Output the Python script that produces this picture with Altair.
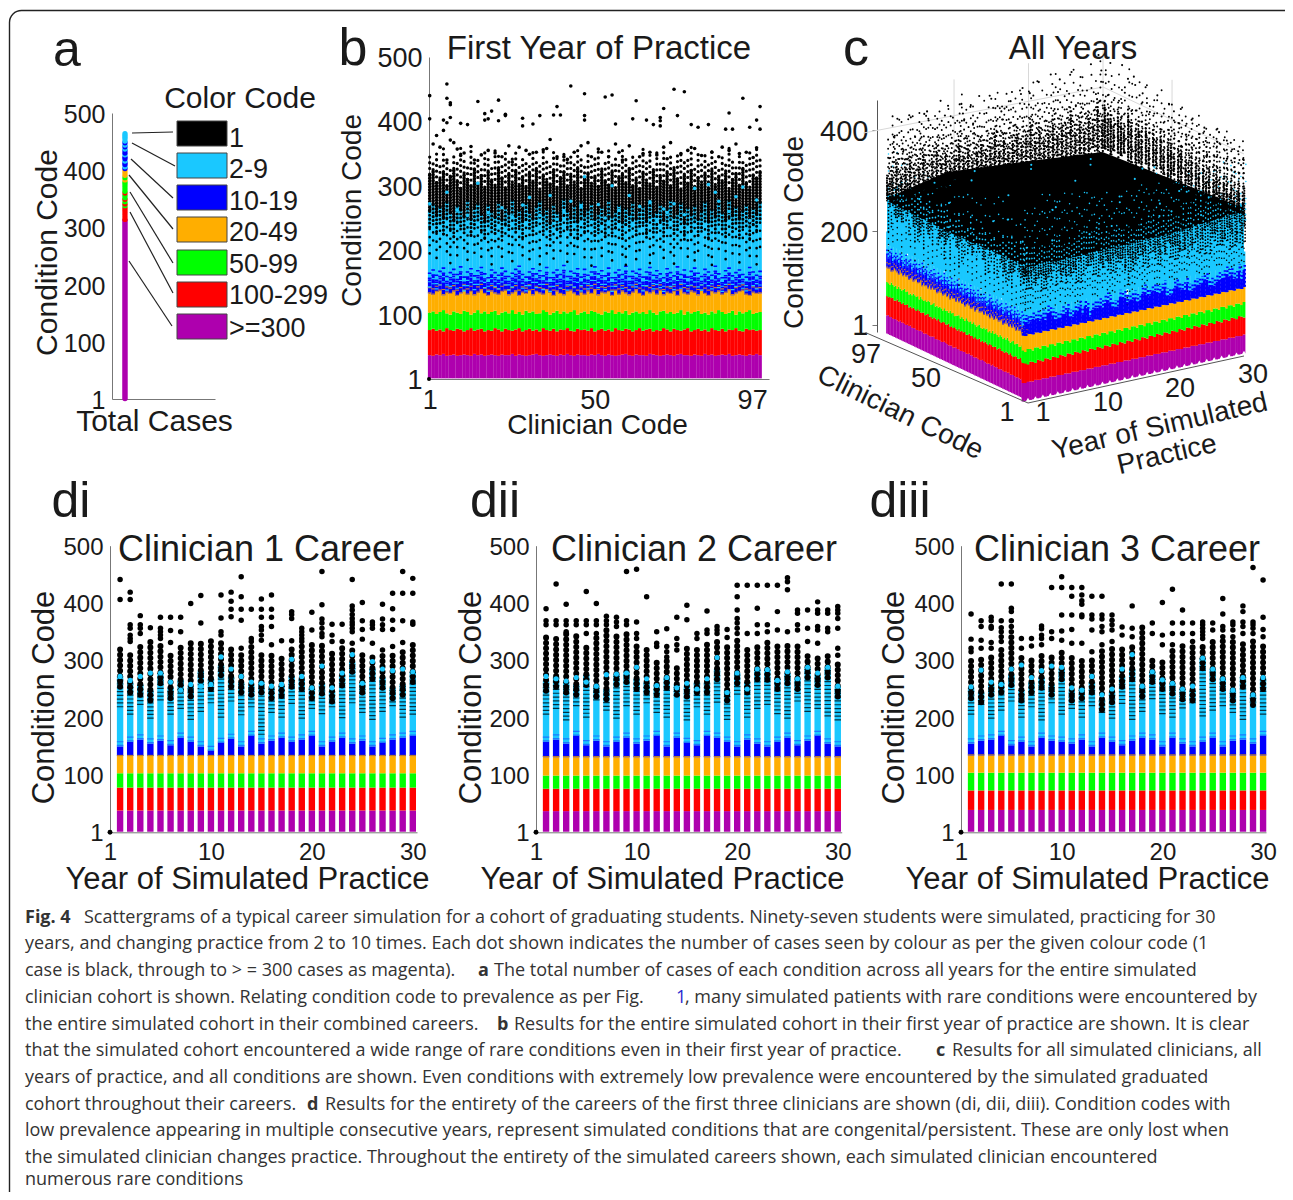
import altair as alt
import pandas as pd

BLACK, CYAN, BLUE, ORANGE, GREEN, RED, PURPLE = "#000000", "#1ac8ff", "#0000ff", "#ffae00", "#00ff00", "#ff0000", "#ae00ae"
W, H = 1277, 1184
SANS = "Liberation Sans"
CAP = "Open Sans"
TXT = "#1a1a1a"
AXC = "#777777"

LEGEND_LABELS = ["1", "2-9", "10-19", "20-49", "50-99", "100-299", ">=300"]
LEGEND_COLORS = [BLACK, CYAN, BLUE, ORANGE, GREEN, RED, PURPLE]

# Panel a: total cases by condition code
A_PURPLE_TOP = 312
A_CODES = [314, 318, 322, 326, 330, 334, 338, 341, 345, 349, 352, 356, 360, 363, 367, 371, 375, 379, 383, 387, 391, 395, 399,
           403, 406, 410, 413, 416, 420, 423, 427, 430, 434, 437, 441, 444, 448, 451, 455, 458, 461, 464]
A_CLASS = ["r", "r", "r", "r", "r", "r", "g", "r", "g", "r", "g", "g", "r", "g", "g", "g", "g", "g", "o", "g", "o", "o", "o",
           "b", "c", "b", "b", "c", "b", "b", "c", "b", "b", "c", "b", "c", "b", "c", "c", "c", "c", "c"]

# Panel b: first year of practice, band tops for each of the 97 clinicians
B_PURPLE = [37,36,38,37,39,36,37,38,36,37, 38,37,36,39,37,38,36,37,38,37, 36,38,37,37,39,36,38,37,36,37,
            38,39,37,36,37,38,37,36,38,37, 39,37,36,38,37,37,36,38,37,39, 37,36,38,37,36,37,38,39,37,36,
            38,37,37,36,39,38,37,36,37,38, 37,36,38,39,37,37,36,38,37,36, 39,37,38,36,37,38,37,39,36,37,
            38,37,36,38,37,39,37]
B_RED = [76,78,75,77,74,79,76,75,78,77, 74,76,79,75,77,78,74,76,75,79, 77,74,78,76,75,77,79,74,76,78,
         75,77,74,79,76,75,78,74,77,76, 79,75,74,78,76,77,75,79,74,76, 78,75,77,74,79,76,75,78,77,74,
         76,79,75,77,78,74,76,75,79,77, 74,78,76,75,77,79,74,76,78,75, 77,74,79,76,75,78,74,77,76,79,
         75,74,78,76,77,75,76]
B_GREEN = [103,105,101,104,107,102,100,105,103,101, 106,104,100,103,107,102,105,101,104,106, 100,103,105,102,107,101,104,100,106,103,
           105,101,102,107,104,100,103,106,101,105, 102,104,107,100,103,105,101,106,104,102, 100,105,103,107,101,104,102,106,100,103,
           105,102,104,101,107,103,100,105,106,102, 104,101,103,107,100,105,102,104,106,101, 103,100,105,102,107,104,101,103,106,100,
           105,102,104,107,101,103,104]
B_ORANGE = [133,131,135,137,130,134,132,136,129,133, 137,131,135,130,134,138,132,129,136,133, 131,135,137,130,133,136,129,134,132,137,
            130,135,133,131,138,134,129,136,132,130, 135,137,133,129,134,131,136,132,138,130, 134,133,135,129,137,131,136,133,130,134,
            138,132,129,135,133,136,131,137,130,134, 132,135,129,138,133,131,136,134,130,137, 132,129,135,133,136,131,134,138,130,133,
            135,137,131,129,134,132,133]
B_BLUE = [155,160,152,158,163,150,156,161,153,165, 149,157,162,151,159,164,154,148,160,156, 152,163,158,150,155,161,166,153,149,157,
          162,154,159,151,164,148,156,160,153,167, 150,158,155,162,149,161,152,157,165,154, 159,151,163,148,156,160,153,166,150,158,
          155,161,149,157,164,152,159,154,148,162, 156,151,165,153,160,149,158,163,155,150, 161,157,152,166,154,148,159,163,151,156,
          160,153,149,164,157,152,158]
B_CYAN = [195,215,188,205,225,198,180,212,192,220, 203,185,228,196,210,190,218,200,178,214, 205,190,226,197,183,216,208,192,222,186,
          201,213,178,224,195,207,187,219,199,230, 182,211,194,205,223,189,217,176,202,214, 191,226,198,184,209,219,193,177,206,221,
          186,200,213,228,180,195,215,205,188,222, 197,179,210,203,225,190,216,184,199,229, 207,192,177,218,202,212,186,224,195,208,
          181,219,200,191,214,178,205]
B_MIX = [262,272,255,268,251,276,259,247,270,264, 253,278,249,266,273,257,245,271,261,252, 275,248,267,258,279,254,263,246,274,260,
         250,269,277,256,265,243,272,259,248,280, 262,251,270,245,276,255,264,273,249,258, 268,247,278,253,261,271,244,266,257,275,
         250,263,269,246,277,254,260,272,248,265, 279,252,258,274,243,267,256,270,249,261, 276,245,264,253,273,259,247,278,255,268,
         250,262,271,244,266,257,275]
B_DENSE = [318,325,305,312,322,300,315,327,308,296, 320,310,300,326,304,316,298,323,309,301, 328,312,297,319,306,324,302,314,299,321,
           307,327,295,317,310,303,325,298,313,322, 300,318,306,328,296,311,320,304,315,299, 326,308,301,323,297,314,319,305,327,300,
           312,296,321,309,303,325,298,316,307,322, 300,328,311,295,318,304,324,299,313,306, 320,297,326,302,315,308,323,296,310,319,
           301,327,305,298,317,312,322]
B_SPARSE = [346,338,352,332,358,340,330,350,336,360, 344,333,354,339,348,331,356,342,335,362, 347,330,351,337,345,359,334,349,341,332,
            355,343,336,361,338,331,353,346,333,357, 340,350,335,363,344,330,352,339,347,358, 334,341,355,332,349,337,360,345,331,351,
            343,336,362,338,348,333,354,340,359,335, 346,331,350,356,337,344,361,332,353,339, 347,334,357,342,330,352,338,363,345,335,
            349,341,332,355,336,358,343]
B_SCATTER = [(1,440),(1,404),(6,458),(6,436),(7,429),(7,426),(5,402),(7,406),(6,398),(10,397),(12,395),(15,431),(17,412),(19,416),
             (21,433),(23,411),(23,409),(21,401),(17,402),(18,404),(28,405),(28,393),(31,396),(33,409),(37,410),(39,410),(38,423),
             (42,455),(46,443),(46,409),(46,402),(52,438),(54,441),(55,396),(60,404),(61,432),(64,402),(66,395),(68,406),(68,401),
             (68,393),(69,420),(72,450),(75,446),(73,409),(77,395),(79,391),(82,395),(88,413),(92,436),(96,402),(97,423),(97,388),
             (94,391),(89,388),(87,388),(3,378),(5,386),(8,367),(2,365),(7,371),(9,357),(11,351),(13,361),(14,340),(4,360),(6,340),
             (10,347),(16,348),(18,355),(20,351),(22,345),(24,362),(25,337),(27,360),(29,355),(30,349),(32,352),(34,356),(35,358),
             (36,372),(38,345),(40,345),(41,341),(43,352),(45,362),(47,367),(48,345),(50,357),(51,352),(53,345),(55,365),(57,340),
             (56,352),(59,362),(62,345),(63,350),(65,352),(67,348),(69,360),(70,342),(71,367),(74,350),(76,355),(78,358),(80,347),
             (83,352),(85,345),(86,360),(88,355),(90,365),(91,350),(93,352),(95,344),(96,359)]
B_CYAN_DOTS = [(15,304),(46,314),(6,290),(1,272),(9,262),(28,270),(30,282),(36,285),(40,260),(42,276),(45,268),(50,271),(54,300),
               (56,262),(59,285),(62,268),(65,275),(69,264),(70,258),(72,272),(78,296),(82,302),(84,290),(85,276),(88,260),(90,283),
               (92,298),(96,278),(18,258),(22,266),(25,252),(33,254),(38,248),(48,244),(52,250),(67,246),(75,255),(94,246),(12,254)]

# Panels d: one clinician across 30 years
D1_BLUE = [150,158,162,155,160,152,165,158,150,142, 156,163,150,168,155,160,165,158,162,168, 150,158,165,155,160,150,156,162,165,168]
D1_CYAN = [218,205,222,198,230,205,215,196,210,225, 200,228,204,218,170,208,200,224,198,215, 206,218,199,225,208,196,210,220,200,205]
D1_MIX = [272,262,258,248,278,252,266,255,282,268, 292,272,262,258,262,252,256,272,268,252, 260,246,274,298,262,286,270,252,258,280]
D1_DENSE = [327,315,327,333,330,309,330,330,333,338, 335,327,309,327,309,309,309,321,324,333, 333,318,327,321,315,309,309,309,315,327]
D1_CDOT = [272,265,272,278,278,262,248,258,255,258, 306,285,272,262,260,255,258,302,272,252, 290,252,278,310,260,298,285,282,285,280]
D1_OUT = {1:[441,406],2:[419,406,362,356,344,338,333],3:[378,362,356,347],4:[357],5:[375,356,350,344,338],6:[375,352,331],7:[375,350],
          8:[399],9:[413,365],11:[414,374,350,344],12:[419,403,389,376],13:[446,411,389,370,321],14:[389,338,333],
          15:[407,389,375,359,353,344,335],16:[414,389,375,359,327],17:[334],18:[385,380,373,334],19:[356,350,344,338,333],
          20:[384,353],21:[455,397,372,365,356,347,341],22:[363,344,333],23:[363,333],24:[441,395,388,380,373,367,362,356,350,330],
          25:[401,369,354,337],26:[367,362,356,330],27:[398,372,362,354,318],28:[417,390,370,354,324],29:[455,417,369,331],30:[443,417,367,363]}

D2_BLUE = [158,162,155,168,152,160,150,158,165,155, 160,168,150,165,156,152,168,165,158,150, 162,155,150,158,165,152,160,168,155,150]
D2_CYAN = [205,215,195,220,200,230,212,198,220,205, 225,208,200,238,195,218,205,226,196,240, 200,215,222,206,198,228,210,215,202,195]
D2_MIX = [265,272,262,258,275,255,250,276,280,268, 262,258,270,258,255,262,262,285,248,278, 262,285,284,268,278,268,288,275,288,255]
D2_DENSE = [341,341,350,350,330,341,353,350,350,330, 318,298,300,295,327,321,335,333,327,338, 318,330,335,333,327,327,315,309,309,298]
D2_CDOT = [272,268,264,270,262,255,275,276,278,288, 268,256,270,252,260,250,268,305,244,278, 250,285,284,265,280,268,288,278,288,255]
D2_OUT = {1:[390,369,362],2:[433,369,362],3:[398,369,362,350],4:[369,362],5:[420,369,362,347],6:[399,369,362,347],7:[377,369,362],
          8:[375,367,359],9:[455,369,362],10:[459,367,347,338],11:[411],12:[350,330,324],13:[355,324,315,306],14:[375,338,327,318],
          15:[396,371],16:[347,338],17:[386,353,347],18:[359,353,347],19:[354,340],20:[431,411,388,373,365,356,347],21:[431,347],
          22:[431,391,362,347],23:[431,362,350],24:[431,385,353],25:[444,437,423,350],26:[388,382,362,353],27:[388,356,333],
          28:[402,388,382,359,353,330],29:[388,382,356,350],30:[394,388,382,373,356,321,309]}

D3_BLUE = [155,160,162,168,152,158,150,165,160,158, 155,162,150,165,158,152,160,165,162,150, 165,155,150,158,165,150,160,162,155,168]
D3_CYAN = [205,222,198,212,228,200,218,195,225,205, 215,200,220,208,198,224,196,210,232,206, 200,216,225,202,212,220,208,196,226,205]
D3_MIX = [252,245,258,262,275,248,262,270,258,285, 248,252,262,232,245,272,285,255,280,268, 260,250,248,304,285,268,248,272,240,268]
D3_DENSE = [300,306,312,327,341,309,306,309,309,321, 306,306,303,324,327,327,330,360,306,298, 318,333,327,327,333,341,333,330,333,333]
D3_CDOT = [254,283,262,258,285,292,270,282,290,288, 252,248,272,240,250,285,310,255,280,266, 260,250,255,304,285,268,248,270,240,270]
D3_OUT = {1:[381,337,321,315],2:[369,359,335,321],3:[375,369,359,356,331,321],4:[433,369,357,350,341,333],5:[433,391,385,369,359,350],
          6:[338,321],7:[338,325],8:[360,355,344,338,327],9:[427,350,338],10:[446,427,379,351,335],11:[427,412,379,354,330],
          12:[427,414,404,398,379,376,330],13:[412,379,372,353,315],14:[412,379,372,359,350,327],15:[379,370,362,353,333],16:[358,344],
          17:[395,356,341],19:[365,347],20:[401,344,327],21:[424,365,347,327],22:[388,365,347],23:[365,347,333],
          24:[367,362,356,350,344,338],25:[365,353],26:[408,381,359,353,341],27:[367,362,353,341],28:[395,385,367,359,347],
          29:[462,367,362,356,347],30:[440,375,354,341]}

D_LAYOUTS = [
    dict(blue=D1_BLUE, cyan=D1_CYAN, mix=D1_MIX, dense=D1_DENSE, cdot=D1_CDOT, out=D1_OUT, tops=[38, 78, 103, 133]),
    dict(blue=D2_BLUE, cyan=D2_CYAN, mix=D2_MIX, dense=D2_DENSE, cdot=D2_CDOT, out=D2_OUT, tops=[37, 76, 99, 131]),
    dict(blue=D3_BLUE, cyan=D3_CYAN, mix=D3_MIX, dense=D3_DENSE, cdot=D3_CDOT, out=D3_OUT, tops=[39, 73, 104, 134]),
]

# Panel c: individual rare points (year, clinician, condition)
C_POINTS = [(2,95,430),(3,92,438),(4,96,425),(5,90,442),(6,94,415),(7,88,430),(8,96,445),(9,85,420),(10,92,438),(11,96,410),
            (12,90,450),(13,80,430),(14,93,440),(15,97,425),(16,88,448),(17,94,418),(18,86,442),(19,96,435),(20,90,452),(21,82,440),
            (22,92,458),(23,96,430),(24,88,462),(25,94,445),(26,78,450),(27,90,465),(28,85,448),(29,95,470),(30,92,455),(30,84,462),
            (30,76,450),(29,70,445),(30,68,440),(28,72,430),(30,60,435),(29,62,420),(30,52,428),(28,55,415),(30,44,430),(29,40,410),
            (30,36,422),(28,30,395),(30,28,415),(29,22,400),(30,18,420),(28,16,385),(30,10,410),(30,5,400),(29,8,380),(27,62,405),
            (26,66,415),(25,74,420),(24,58,400),(23,80,410),(22,70,420),(20,72,395),(18,80,415),(16,74,400),(14,84,405),(12,78,395),
            (10,84,410),(8,78,395),(6,84,400),(4,80,385),(3,88,400),(2,84,385),(1,92,400),(1,86,380),(2,76,370),(5,70,375),
            (7,66,365),(9,72,385),(11,68,375),(13,70,385),(15,66,370),(17,62,380),(19,64,390),(21,60,375),(23,62,385),(25,56,370),
            (27,48,385),(26,40,375),(28,42,390),(27,30,365),(29,30,380),(26,22,355),(28,12,365),(30,3,375),(24,46,362),(22,50,368),
            (20,54,372),(18,56,360),(16,60,368),(14,64,358),(12,66,370),(10,70,360),(8,72,372),(6,74,355),(4,76,368),(30,70,425),
            (30,80,440),(28,88,452),(26,92,440),(24,96,436),(21,96,442),(18,92,432),(15,88,418),(12,96,420),(9,96,432),(6,97,424)]
C_CYAN = [(8,20,272),(15,15,285),(22,18,278),(12,40,292),(20,35,300),(25,25,268),(5,45,285),(10,60,300),(18,55,310),(25,50,298),
          (28,35,285),(4,70,290),(9,80,305),(16,75,312),(23,70,305),(28,60,295),(3,85,280),(2,60,262),(6,30,262),(14,25,258),
          (20,12,262),(27,15,268),(30,25,280),(30,40,270),(12,10,250),(5,12,245),(18,8,255),(24,5,258),(8,50,272),(14,48,280),
          (22,45,268),(26,38,262),(2,75,258),(6,90,296),(11,88,306),(18,85,300),(25,80,296),(30,62,288),(3,28,250),(7,8,240)]
C_FRINGE_L = [330,345,362,338,355,372,342,350,368,336, 358,375,345,362,340,352,378,348,365,338, 356,372,344,360,380,350,366,342,358,376,
              346,362,384,352,368,344,360,378,348,372, 356,388,350,366,346,376,358,392,354]
C_FRINGE_R = [392,360,378,350,386,366,354,395,372,356, 380,362,390,352,374,358,384,350,368,378, 348,360,372,352,344,366,356,348,362,340,
              352,344,358,338,350,342,348,336,346,340]
C_YEARS_L = [1.0,1.6,2.2,2.8,3.4,4.0,4.6,5.2,5.8,6.4, 7.0,7.6,8.2,8.8,9.4,10.0,10.6,11.2,11.8,12.4, 13.0,13.6,14.2,14.8,15.4,16.0,16.6,17.2,17.8,18.4,
             19.0,19.6,20.2,20.8,21.4,22.0,22.6,23.2,23.8,24.4, 25.0,25.6,26.2,26.8,27.4,28.0,28.6,29.2,29.8]
C_CLIN_R = [96,94,92,90,87,85,83,80,78,75, 73,71,68,66,63,61,58,56,53,51, 49,46,44,41,39,37,34,32,29,27, 25,22,20,18,15,13,10,8,5,2]
# cloud outline: (year, clinician, condition) of its solid part
C_BODY_TOP = [(1, 97, 272), (9, 97, 298), (20, 97, 284), (30, 97, 270), (30, 50, 280), (30, 1, 292)]
C_BODY_LOW = [(1, 97, 266), (1, 56, 262), (1, 1, 268), (11, 1, 268), (20.5, 1, 274), (30, 1, 286)]

YEARS = list(range(1, 31))
CLINS = list(range(1, 98))


def cx(v):
    return v - 8


def cy(v):
    return v - 8


def sc(dom, rng):
    return alt.Scale(domain=dom, range=rng, nice=False, zero=False)


one = alt.Data(values=[{"k": 0}])


def txt(x, y, s, size=28, font=SANS, color=TXT, align="center", angle=0, weight="normal"):
    lift = 2 if font == SANS else 0
    return alt.Chart(alt.Data(values=[{"t": s}])).mark_text(
        font=font, fontSize=size, color=color, align=align, baseline="middle", angle=angle, fontWeight=weight
    ).encode(x=alt.value(cx(x)), y=alt.value(cy(y + size * 0.07 + lift)), text="t:N")


def seg(x0, y0, x1, y1, color="#222222", width=1.2):
    return alt.Chart(one).mark_rule(color=color, strokeWidth=width).encode(
        x=alt.value(cx(x0)), y=alt.value(cy(y0)), x2=alt.value(cx(x1)), y2=alt.value(cy(y1)))


EXPR1 = "datum.value==0?'1':datum.label"


def axes_layer(xs, ys, x_vals, y_vals, x0, y0, ttl_x, ttl_x_pos, ttl_y_pos, ysize, tsize, x_expr=EXPR1):
    xa = alt.Axis(values=x_vals, labelExpr=x_expr, orient="bottom", offset=cy(y0) - H, ticks=False, grid=False,
                  domainColor=AXC, labelFont=SANS, labelFontSize=ysize, labelColor=TXT, labelPadding=8, labelOverlap=False,
                  labelFlush=False, labelBound=False,
                  labels=bool(x_vals), title=ttl_x, titleFont=SANS, titleFontSize=tsize, titleFontWeight="normal", titleColor=TXT,
                  titleX=cx(ttl_x_pos[0]), titleY=ttl_x_pos[1] - y0, titleBaseline="middle", titleAlign="center")
    ya = alt.Axis(values=y_vals, labelExpr=EXPR1, orient="left", offset=-cx(x0), ticks=False, grid=False,
                  domainColor=AXC, labelFont=SANS, labelFontSize=ysize, labelColor=TXT, labelPadding=7, labelOverlap=False,
                  labelFlush=False, labelBound=False, labelOffset=1.5,
                  title="Condition Code", titleFont=SANS, titleFontSize=tsize, titleFontWeight="normal", titleColor=TXT,
                  titleX=ttl_y_pos[0] - x0, titleY=cy(ttl_y_pos[1]), titleBaseline="middle", titleAlign="center", titleAngle=-90)
    return alt.Chart(one).mark_point(opacity=0).encode(
        x=alt.X("k:Q", scale=xs, axis=xa), y=alt.Y("k:Q", scale=ys, axis=ya))


def rules(df, x, xs, ys, lo, hi, **mark):
    return alt.Chart(df).mark_rule(**mark).encode(
        x=alt.X(f"{x}:Q", scale=xs, axis=None),
        y=alt.Y(f"{lo}:Q", scale=ys, axis=None),
        y2=alt.Y2(f"{hi}:Q"))


def dots(df, x, y, xs, ys, **mark):
    return alt.Chart(df).mark_circle(**mark).encode(
        x=alt.X(f"{x}:Q", scale=xs, axis=None),
        y=alt.Y(f"{y}:Q", scale=ys, axis=None))


layers = []

# ---------- frame ----------
layers.append(alt.Chart(one).mark_rect(fill="transparent", stroke="#222222", strokeWidth=1.4, cornerRadius=12, clip=True).encode(
    x=alt.value(cx(9.5)), x2=alt.value(cx(1330)), y=alt.value(cy(10.5)), y2=alt.value(cy(1230))))

# ---------- panel a ----------
xa_s = sc([0, 1], [cx(112), cx(215)])
ya_s = sc([0, 500], [cy(399), cy(113)])
a_pts = pd.DataFrame({"x": [0.126] * len(A_CODES), "code": A_CODES,
                      "col": [{"r": RED, "g": GREEN, "o": ORANGE, "b": BLUE, "c": CYAN}[k] for k in A_CLASS]})
a_rule = pd.DataFrame({"x": [0.126], "lo": [1], "hi": [A_PURPLE_TOP]})
layers.append(axes_layer(xa_s, ya_s, [], [0, 100, 200, 300, 400, 500], 112, 399, "Total Cases", (154, 421), (47, 252), 25, 30))
panel_a = alt.layer(
    rules(a_rule, "x", xa_s, ya_s, "lo", "hi", color=PURPLE, strokeWidth=5.5, strokeCap="round"),
    alt.Chart(a_pts).mark_circle(size=28, opacity=1).encode(
        x=alt.X("x:Q", scale=xa_s, axis=None), y=alt.Y("code:Q", scale=ya_s, axis=None),
        color=alt.Color("col:N", scale=None, legend=None)),
)
layers.append(panel_a)
layers.append(txt(67, 45, "a", 50))
layers.append(txt(240, 95, "Color Code", 30))
sw_top = [121, 153, 185, 217, 250, 282, 314]
lab_y = [135, 166, 198, 229, 261, 292, 325]
lead = [(132, 133, 173, 132), (132, 143, 175, 166), (131, 159, 173, 198), (129, 175, 173, 229),
        (130, 192, 173, 263), (130, 212, 173, 293), (129, 261, 172, 326)]
for i, (lab, col) in enumerate(zip(LEGEND_LABELS, LEGEND_COLORS)):
    layers.append(alt.Chart(one).mark_rect(fill=col, stroke="#444444", strokeWidth=1).encode(
        x=alt.value(cx(177)), x2=alt.value(cx(227)), y=alt.value(cy(sw_top[i])), y2=alt.value(cy(sw_top[i] + 25))))
    layers.append(txt(229, lab_y[i], lab, 27, align="left"))
    layers.append(seg(*lead[i]))

# ---------- panel b ----------
xb_s = sc([0.8, 99.6], [cx(429), cx(769)])
yb_s = sc([0, 500], [cy(379), cy(57)])
b_df = pd.DataFrame({"c": CLINS, "base": [1] * 97, "p": B_PURPLE, "r": B_RED, "g": B_GREEN, "o": B_ORANGE, "b": B_BLUE,
                     "cy": B_CYAN, "mix": B_MIX, "dense": B_DENSE, "sparse": B_SPARSE})
b_df["o_f"] = b_df["o"] + 11
b_df["b_f"] = b_df["b"] + 14
b_df["b_l"] = b_df["b"] - 13
b_df["mix_l"] = b_df["mix"] - 26
b_pts = pd.DataFrame(B_SCATTER, columns=["c", "v"])
b_cd = pd.DataFrame(B_CYAN_DOTS, columns=["c", "v"])
origin = pd.DataFrame({"c": [0.8], "v": [0]})
BW = 3.6
b_stack = []
for lo, hi, col in [("base", "p", PURPLE), ("p", "r", RED), ("r", "g", GREEN), ("g", "o", ORANGE), ("o", "b", BLUE), ("b", "mix", CYAN)]:
    b_stack.append(rules(b_df, "c", xb_s, yb_s, lo, hi, color=col, strokeWidth=BW))
layers.append(axes_layer(xb_s, yb_s, [1, 49, 94.7], [0, 100, 200, 300, 400, 500], 429, 379, "Clinician Code", (597, 425), (352, 210), 27, 28,
                         x_expr="datum.value<2?'1':(datum.value<60?'50':'97')"))
panel_b = alt.layer(
    *b_stack,
    rules(b_df, "c", xb_s, yb_s, "o", "o_f", color="#c47a3a", strokeWidth=BW, strokeDash=[1.2, 4]),
    rules(b_df, "c", xb_s, yb_s, "b_l", "b", color=CYAN, strokeWidth=BW, strokeDash=[1.2, 4]),
    rules(b_df, "c", xb_s, yb_s, "b", "b_f", color=BLUE, strokeWidth=BW, strokeDash=[1.6, 3.5]),
    rules(b_df, "c", xb_s, yb_s, "cy", "mix_l", color=BLACK, strokeWidth=2.6, strokeDash=[0.1, 8], strokeCap="round"),
    rules(b_df, "c", xb_s, yb_s, "mix_l", "mix", color=BLACK, strokeWidth=3, strokeDash=[0.1, 3.8], strokeCap="round"),
    rules(b_df, "c", xb_s, yb_s, "mix", "dense", color=BLACK, strokeWidth=3.6, strokeDash=[0.1, 2.8], strokeCap="round"),
    rules(b_df, "c", xb_s, yb_s, "dense", "sparse", color=BLACK, strokeWidth=3.2, strokeDash=[0.1, 5.6], strokeCap="round"),
    dots(b_cd, "c", "v", xb_s, yb_s, color=CYAN, size=13, opacity=1),
    dots(b_pts, "c", "v", xb_s, yb_s, color=BLACK, size=13, opacity=1),
    dots(origin, "c", "v", xb_s, yb_s, color=BLACK, size=16, opacity=1),
)
layers.append(panel_b)
layers.append(txt(353, 43, "b", 52))
layers.append(txt(599, 45, "First Year of Practice", 33))


# ---------- panel c ----------
def project(year, clin, cond):
    u = (year - 1) / 29
    w = (clin - 1) / 96
    return 1028 + 216 * u - 141 * w - 8, 401 - 47 * u - 67 * w - 0.5 * cond - 8


xc_s = sc([0, W], [0, W])
yc_s = sc([0, H], [0, H])


def c_col(year, clin, lo, hi):
    x, y1 = project(year, clin, lo)
    _, y2 = project(year, clin, hi)
    return (x, y1, y2)


def c_rules(rows, **mark):
    df = pd.DataFrame(rows, columns=["x", "y", "y2"])
    return rules(df, "x", xc_s, yc_s, "y", "y2", **mark)


def c_area(rows, color):
    df = pd.DataFrame(rows, columns=["x", "y", "y2"])
    return alt.Chart(df).mark_area(color=color, opacity=1).encode(
        x=alt.X("x:Q", scale=xc_s, axis=None), y=alt.Y("y:Q", scale=yc_s, axis=None), y2=alt.Y2("y2:Q"))


def c_seg(a, b, color="#d8d8d8", width=1):
    x0, y0 = project(*a)
    x1, y1 = project(*b)
    df = pd.DataFrame({"x": [x0], "y": [y0], "x2": [x1], "y2": [y1]})
    return alt.Chart(df).mark_rule(color=color, strokeWidth=width).encode(
        x=alt.X("x:Q", scale=xc_s, axis=None), y=alt.Y("y:Q", scale=yc_s, axis=None), x2="x2:Q", y2="y2:Q")


c_layers = []
for yr in (10, 20, 30):
    c_layers.append(c_seg((yr, 97, 300), (yr, 97, 480)))
for cl in (50, 1):
    c_layers.append(c_seg((30, cl, 300), (30, cl, 480 if cl == 50 else 320)))
c_layers.append(c_seg((-1, 103, 400), (30, 97, 400)))
c_layers.append(c_seg((30, 97, 400), (30, 1, 400)))

c_layers.append(c_area([c_col(1, 97, 180, 280), c_col(1, 1, 180, 300), c_col(30, 1, 180, 300)], CYAN))
c_layers.append(c_area([(project(*a)[0], project(*a)[1], project(*b)[1]) for a, b in zip(C_BODY_LOW, C_BODY_TOP)], BLACK))

b_cols = [("base", "p", PURPLE), ("p", "r", RED), ("r", "g", GREEN), ("g", "o", ORANGE), ("o", "b", BLUE), ("b", "cy", CYAN)]
for lo, hi, col in b_cols:
    c_layers.append(c_rules([c_col(1, r.c, getattr(r, lo), getattr(r, hi)) for r in b_df.itertuples()], color=col, strokeWidth=1.7))
for k, d in enumerate(D_LAYOUTS):
    tops = d["tops"]
    bounds = [[1] * 30, [tops[0]] * 30, [tops[1]] * 30, [tops[2]] * 30, [tops[3]] * 30, d["blue"], d["cyan"]]
    for bi, col in enumerate([PURPLE, RED, GREEN, ORANGE, BLUE, CYAN]):
        rows = [c_col(yr + (k - 2) / 3, 1, bounds[bi][i], bounds[bi + 1][i]) for i, yr in enumerate(YEARS)]
        c_layers.append(c_rules(rows, color=col, strokeWidth=2.8))

# fuzzy edges of the bands and the cyan-black mixture, as round dots
DOT = dict(color=BLACK, strokeCap="round")
CDOT_STYLE = dict(color=CYAN, strokeCap="round")
c_layers.append(c_rules([c_col(1, r.c, r.o, r.o_f) for r in b_df.itertuples()], color="#c47a3a", strokeWidth=1.4, strokeDash=[1.2, 3]))
c_layers.append(c_rules([c_col(1, r.c, r.b, r.b_f) for r in b_df.itertuples()], color=BLUE, strokeWidth=1.6, strokeDash=[1.4, 2.6]))
c_layers.append(c_rules([c_col(1, r.c, r.cy - 10, r.cy + 28) for r in b_df.itertuples() if r.c % 3 == 0], strokeWidth=1.5, strokeDash=[0.1, 6], **DOT))
c_layers.append(c_rules([c_col(1, r.c, r.cy + 28, r.mix + 10) for r in b_df.itertuples() if r.c % 2 == 0], strokeWidth=1.7, strokeDash=[0.1, 3.4], **DOT))
c_layers.append(c_rules([c_col(1, r.c, r.mix - 8, r.dense) for r in b_df.itertuples() if r.c % 2 == 1], strokeWidth=1.9, strokeDash=[0.1, 2.4], **DOT))
for k, d in enumerate(D_LAYOUTS):
    off = (k - 2) / 3
    rows = [c_col(yr + off, 1, d["cyan"][i] - 20, d["cyan"][i] + 20) for i, yr in enumerate(YEARS)]
    c_layers.append(c_rules(rows, strokeWidth=1.5, strokeDash=[0.1, 6.5], **DOT))
    rows = [c_col(yr + off + 0.15, 1, d["cyan"][i] + 20, d["mix"][i] + 10) for i, yr in enumerate(YEARS)]
    c_layers.append(c_rules(rows, strokeWidth=1.7, strokeDash=[0.1, 3.2], **DOT))
    rows = [c_col(yr + off + 0.05, 1, d["mix"][i] - 12, d["dense"][i]) for i, yr in enumerate(YEARS)]
    c_layers.append(c_rules(rows, strokeWidth=1.9, strokeDash=[0.1, 2.4], **DOT))
    rows = [c_col(yr + off + 0.1, 1, d["tops"][3], d["blue"][i] + 14) for i, yr in enumerate(YEARS)]
    c_layers.append(c_rules(rows, color=BLUE, strokeWidth=2.4, strokeDash=[1.8, 2.2]))
    # cyan flecks seen through the black body
    rows = [c_col(yr + off + 0.2, 1, d["mix"][i], d["mix"][i] + 42) for i, yr in enumerate(YEARS)]
    c_layers.append(c_rules(rows, strokeWidth=1.7, strokeDash=[0.1, 5.2], **CDOT_STYLE))
    rows = [c_col(yr + off + 0.25, 1, d["mix"][i] + 42, d["dense"][i] + 60) for i, yr in enumerate(YEARS)]
    c_layers.append(c_rules(rows, strokeWidth=1.5, strokeDash=[0.1, 17], **CDOT_STYLE))
c_layers.append(c_rules([c_col(1, r.c, r.mix, r.mix + 36) for r in b_df.itertuples() if r.c % 2 == 0], strokeWidth=1.7, strokeDash=[0.1, 5.4], **CDOT_STYLE))
c_layers.append(c_rules([c_col(1, r.c, r.mix + 36, r.dense + 60) for r in b_df.itertuples() if r.c % 3 == 0], strokeWidth=1.5, strokeDash=[0.1, 17], **CDOT_STYLE))

# upper fringe of the cloud along the two back edges
for dash, w_, shift, add, seq in [([0.1, 2.8], 2.2, 0.1, -30, 1), ([0.1, 3.8], 2.0, 0.0, -12, 1), ([0.1, 5.0], 1.9, 0.3, 6, -1),
                                  ([0.1, 9], 1.9, 0.15, 45, -1), ([0.1, 13], 1.9, 0.45, 70, 1)]:
    rows = [c_col(min(y + shift, 30), 97, 262 + (v * 7) % 23, v + add) for y, v in zip(C_YEARS_L, C_FRINGE_L[::seq])]
    c_layers.append(c_rules(rows, strokeWidth=w_, strokeDash=dash, **DOT))
    rows = [c_col(30, max(c - 2 * shift, 1), 272 + (v * 7) % 23, v + add) for c, v in zip(C_CLIN_R, C_FRINGE_R[::seq])]
    c_layers.append(c_rules(rows, strokeWidth=w_, strokeDash=dash, **DOT))

pdf = pd.DataFrame([project(*p) for p in C_POINTS], columns=["x", "y"])
c_layers.append(dots(pdf, "x", "y", xc_s, yc_s, color=BLACK, size=4.5, opacity=1))
cdf = pd.DataFrame([project(*p) for p in C_CYAN], columns=["x", "y"])
c_layers.append(dots(cdf, "x", "y", xc_s, yc_s, color=CYAN, size=4.5, opacity=1))

saw = pd.DataFrame([project(y, 1, 1) for y in YEARS], columns=["x", "y"])
c_layers.append(alt.Chart(saw).mark_point(shape="triangle-up", filled=True, color="white", size=40, opacity=1).encode(
    x=alt.X("x:Q", scale=xc_s, axis=None), y=alt.Y("y:Q", scale=yc_s, axis=None)))

c_layers.append(c_seg((-0.7, 103, 0), (1, 1, -4), color="#555555"))
c_layers.append(c_seg((1, 1, -4), (30, 1, -4), color="#555555"))
layers.append(alt.layer(*c_layers))

yc_axis = sc([0, 460], [cy(332), cy(100)])
layers.append(alt.Chart(one).mark_point(opacity=0).encode(
    x=alt.value(0),
    y=alt.Y("k:Q", scale=yc_axis, axis=alt.Axis(
        values=[14, 200, 400], labelExpr="datum.value<20?'1':datum.label", orient="left", offset=-cx(877), ticks=True, tickSize=5, tickColor=AXC, grid=False,
        domainColor="#555555", labelFont=SANS, labelFontSize=29, labelColor=TXT, labelPadding=4, labelOverlap=False, labelOffset=1,
        title="Condition Code", titleFont=SANS, titleFontSize=28, titleFontWeight="normal", titleColor=TXT,
        titleX=794 - 877, titleY=cy(232), titleBaseline="middle", titleAlign="center", titleAngle=-90))))
layers.append(txt(856, 43, "c", 52))
layers.append(txt(1073, 45, "All Years", 33))
layers.append(txt(866, 351, "97", 27))
layers.append(txt(926, 375, "50", 27))
layers.append(txt(1007, 409, "1", 27))
layers.append(txt(1043, 409, "1", 27))
layers.append(txt(1108, 399, "10", 27))
layers.append(txt(1180, 385, "20", 27))
layers.append(txt(1253, 371, "30", 27))
layers.append(txt(900, 409, "Clinician Code", 28, angle=26))
layers.append(txt(1160, 423, "Year of Simulated", 28, angle=347))
layers.append(txt(1167, 451, "Practice", 28, angle=347))

# ---------- panels d ----------
D_GEOM = [
    dict(x0=110, col1=120, col30=412.7, xe=417, title="Clinician 1 Career", tc=(261, 545), xt=(247, 879), yt=(44, 697), let=("di", 71)),
    dict(x0=536, col1=546, col30=837.7, xe=841.7, title="Clinician 2 Career", tc=(694, 545), xt=(662, 879), yt=(471, 697), let=("dii", 495)),
    dict(x0=961, col1=971, col30=1263, xe=1266, title="Clinician 3 Career", tc=(1117, 545), xt=(1087, 879), yt=(894, 697), let=("diii", 900)),
]
yd_s = sc([0, 500], [cy(832.3), cy(545.7)])
DW = 6.4
for g, d in zip(D_GEOM, D_LAYOUTS):
    pitch = (g["col30"] - g["col1"]) / 29
    xd_s = sc([0, (g["xe"] - g["x0"]) / pitch], [cx(g["x0"]), cx(g["xe"])])
    t = d["tops"]
    df = pd.DataFrame({"y": YEARS, "base": [1] * 30, "p": [t[0]] * 30, "r": [t[1]] * 30, "g": [t[2]] * 30, "o": [t[3]] * 30,
                       "b": d["blue"], "cy": d["cyan"], "mix": d["mix"], "dense": d["dense"]})
    df["b_f"] = df["o"] + 8
    df["b_l"] = df["b"] + 9
    df["mix_l"] = df["mix"] - 18
    stack = []
    for lo, hi, col in [("base", "p", PURPLE), ("p", "r", RED), ("r", "g", GREEN), ("g", "o", ORANGE), ("o", "b", BLUE), ("b", "mix", CYAN)]:
        stack.append(rules(df, "y", xd_s, yd_s, lo, hi, color=col, strokeWidth=DW))
    out_rows = [(y, v) for y, vals in d["out"].items() for v in vals]
    out_df = pd.DataFrame(out_rows, columns=["y", "v"])
    cd_df = pd.DataFrame({"y": YEARS, "v": d["cdot"]})
    orig = pd.DataFrame({"y": [0], "v": [0]})
    layers.append(axes_layer(xd_s, yd_s, [0, 10, 20, 30], [0, 100, 200, 300, 400, 500], g["x0"], 832.3,
                             "Year of Simulated Practice", g["xt"], g["yt"], 24, 31))
    panel = alt.layer(
        *stack,
        rules(df, "y", xd_s, yd_s, "o", "b_f", color="#b57a30", strokeWidth=DW, strokeDash=[1.2, 3.6]),
        rules(df, "y", xd_s, yd_s, "b", "b_l", color="#1a78ff", strokeWidth=DW, strokeDash=[1.5, 2.5]),
        rules(df, "y", xd_s, yd_s, "cy", "mix", color="#05303f", strokeWidth=DW, strokeDash=[1.2, 2.6]),
        rules(df, "y", xd_s, yd_s, "mix_l", "dense", color=BLACK, strokeWidth=DW - 0.4, strokeDash=[0.1, 5.2], strokeCap="round"),
        dots(cd_df, "y", "v", xd_s, yd_s, color=CYAN, size=26, opacity=1),
        dots(out_df, "y", "v", xd_s, yd_s, color=BLACK, size=30, opacity=1),
        dots(orig, "y", "v", xd_s, yd_s, color=BLACK, size=24, opacity=1),
    )
    layers.append(panel)
    layers.append(txt(g["tc"][0], g["tc"][1], g["title"], 36))
    layers.append(txt(g["let"][1], 496, g["let"][0], 50))

# ---------- caption ----------
CAPTION = [
    (917, [(25, "Fig. 4", True, None), (84, "Scattergrams of a typical career simulation for a cohort of graduating students. Ninety-seven students were simulated, practicing for 30", False, None)]),
    (943, [(25, "years, and changing practice from 2 to 10 times. Each dot shown indicates the number of cases seen by colour as per the given colour code (1", False, None)]),
    (970, [(25, "case is black, through to > = 300 cases as magenta).", False, None), (478, "a", True, None), (494, "The total number of cases of each condition across all years for the entire simulated", False, None)]),
    (997, [(25, "clinician cohort is shown. Relating condition code to prevalence as per Fig.", False, None), (676, "1", False, "#2a2ad0"), (685, ", many simulated patients with rare conditions were encountered by", False, None)]),
    (1024, [(25, "the entire simulated cohort in their combined careers.", False, None), (497, "b", True, None), (514, "Results for the entire simulated cohort in their first year of practice are shown. It is clear", False, None)]),
    (1050, [(25, "that the simulated cohort encountered a wide range of rare conditions even in their first year of practice.", False, None), (936, "c", True, None), (952, "Results for all simulated clinicians, all", False, None)]),
    (1077, [(25, "years of practice, and all conditions are shown. Even conditions with extremely low prevalence were encountered by the simulated graduated", False, None)]),
    (1104, [(25, "cohort throughout their careers.", False, None), (307, "d", True, None), (325, "Results for the entirety of the careers of the first three clinicians are shown (di, dii, diii). Condition codes with", False, None)]),
    (1130, [(25, "low prevalence appearing in multiple consecutive years, represent simulated conditions that are congenital/persistent. These are only lost when", False, None)]),
    (1157, [(25, "the simulated clinician changes practice. Throughout the entirety of the simulated careers shown, each simulated clinician encountered", False, None)]),
    (1179, [(25, "numerous rare conditions", False, None)]),
]
for y, parts in CAPTION:
    for x, s, bold, colr in parts:
        layers.append(txt(x, y, s, 18, font=CAP, color=colr or "#333333", align="left", weight="bold" if bold else "normal"))

chart = alt.layer(*layers).resolve_scale(x="independent", y="independent").resolve_axis(x="independent", y="independent").properties(
    width=W, height=H, padding=0, autosize="none", background="white"
).configure_view(stroke=None)

chart.save("out.html", embed_options={"renderer": "svg", "actions": False})
